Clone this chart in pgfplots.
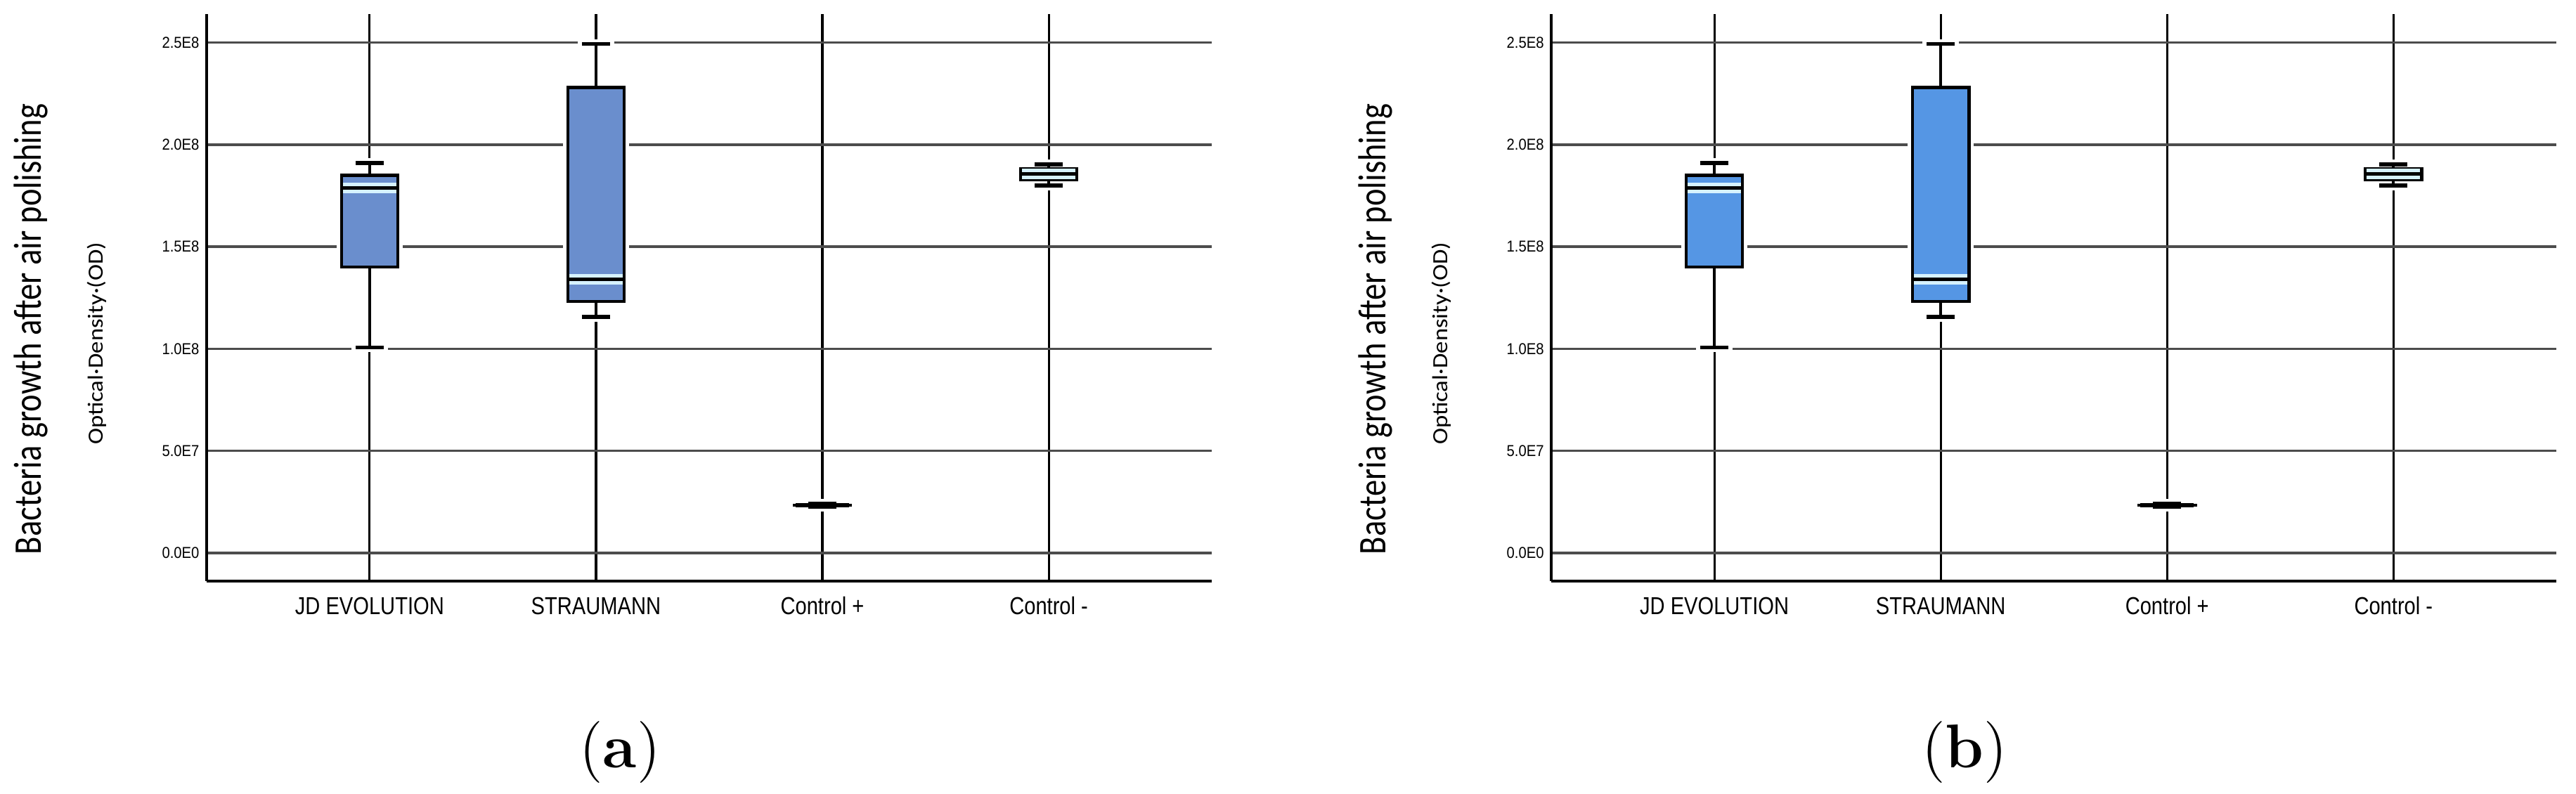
\documentclass[border=0pt]{standalone}
\usepackage{fontspec}
\usepackage{graphicx}
\usepackage{pgfplots}
\pgfplotsset{compat=1.18}

\newfontfamily\xtf[FakeStretch=0.835]{Liberation Sans}
\newfontfamily\ytf[FakeStretch=0.9]{Liberation Sans}
\newfontfamily\labf{Carlito}

\definecolor{boxA}{RGB}{106,142,205}
\definecolor{boxB}{RGB}{85,150,228}
\definecolor{medlight}{RGB}{214,242,255}

% values in units of 1E7
\pgfplotsset{panel/.style={
  scale only axis, width=203.38pt, height=114.78pt, anchor=south west,
  xmin=-0.72, xmax=3.72, ymin=-1.377, ymax=26.396,
  axis x line*=bottom, axis y line*=left,
  axis line style={-, black, line width=0.5pt},
  xtick={0,1,2,3}, xticklabels={JD EVOLUTION,STRAUMANN,Control +,Control -},
  ytick={0,5,10,15,20,25},
  yticklabels={0.0E0,5.0E7,1.0E8,1.5E8,2.0E8,2.5E8},
  major tick length=0pt,
  xmajorgrids, ymajorgrids,
  x grid style={black, line width=0.45pt},
  y grid style={black!70, line width=0.5pt},
  xticklabel style={font=\xtf\fontsize{4.96}{6}\selectfont, anchor=center, inner sep=0pt, yshift=-5pt},
  yticklabel style={font=\ytf\fontsize{3.2}{4}\selectfont, anchor=east, inner sep=0pt, xshift=-1.3pt},
  clip=false,
}}

% position, lower whisker, lower quartile, median, upper quartile, upper whisker, fill, median halo
\newcommand{\bx}[8]{%
  \pgfmathsetmacro\bxL{#1-0.125}\pgfmathsetmacro\bxR{#1+0.125}%
  \pgfmathsetmacro\haL{#1-0.145}\pgfmathsetmacro\haR{#1+0.145}%
  \pgfmathsetmacro\cpL{#1-0.0625}\pgfmathsetmacro\cpR{#1+0.0625}%
  \pgfmathsetmacro\chL{#1-0.08}\pgfmathsetmacro\chR{#1+0.08}%
  \pgfmathsetmacro\mdL{#1-0.118}\pgfmathsetmacro\mdR{#1+0.118}%
  \addplot[fill=white, draw=none] coordinates {(\haL,#3) (\haR,#3) (\haR,#5) (\haL,#5)} -- cycle;
  \addplot[white, line width=2pt] coordinates {(\chL,#2) (\chR,#2)};
  \addplot[white, line width=2pt] coordinates {(\chL,#6) (\chR,#6)};
  \addplot[black, line width=0.6pt] coordinates {(#1,#2) (#1,#3)};
  \addplot[black, line width=0.6pt] coordinates {(#1,#5) (#1,#6)};
  \addplot[black, line width=0.8pt] coordinates {(\cpL,#2) (\cpR,#2)};
  \addplot[black, line width=0.8pt] coordinates {(\cpL,#6) (\cpR,#6)};
  \addplot[fill=#7, draw=black, line width=0.6pt] coordinates {(\bxL,#3) (\bxR,#3) (\bxR,#5) (\bxL,#5)} -- cycle;
  \addplot[#8, line width=2.2pt] coordinates {(\mdL,#4) (\mdR,#4)};
  \addplot[black, line width=0.8pt] coordinates {(\mdL,#4) (\mdR,#4)};
}

\begin{document}
\begin{tikzpicture}
\useasboundingbox (0,0) rectangle (521.25pt,160.71pt);

% (a)
\begin{axis}[panel, at={(41.81pt,43.09pt)}]
\bx{0}{10.07}{14.00}{17.88}{18.50}{19.09}{boxA}{draw=medlight}
\bx{1}{11.57}{12.31}{13.40}{22.80}{24.93}{boxA}{draw=medlight}
\bx{2}{2.28}{2.33}{2.34}{2.35}{2.40}{boxA}{draw=none}
\bx{3}{18.00}{18.28}{18.56}{18.82}{19.02}{boxA}{draw=medlight}
\end{axis}

% (b)
\begin{axis}[panel, at={(313.91pt,43.09pt)}]
\bx{0}{10.07}{14.00}{17.88}{18.50}{19.09}{boxB}{draw=medlight}
\bx{1}{11.57}{12.31}{13.40}{22.80}{24.93}{boxB}{draw=medlight}
\bx{2}{2.28}{2.33}{2.34}{2.35}{2.40}{boxB}{draw=none}
\bx{3}{18.00}{18.28}{18.56}{18.82}{19.02}{boxB}{draw=medlight}
\end{axis}

\foreach \dx/\lt in {0pt/a, 272.1pt/b} {
  \begin{scope}[xshift=\dx]
  \node[rotate=90, anchor=base, inner sep=0pt] at (8.25pt,94.08pt)
    {\resizebox{91.2pt}{5.5pt}{\labf Bacteria growth after air polishing}};
  \node[rotate=90, anchor=base, inner sep=0pt] at (20.8pt,91.2pt)
    {\resizebox{41pt}{3.2pt}{\labf Optical·Density·(OD)}};
  \node[anchor=base, inner sep=0pt] at (125.44pt,5.3pt)
    {\fontsize{12.5}{15}\selectfont(\textbf{\lt})};
  \end{scope}
}
\end{tikzpicture}
\end{document}
